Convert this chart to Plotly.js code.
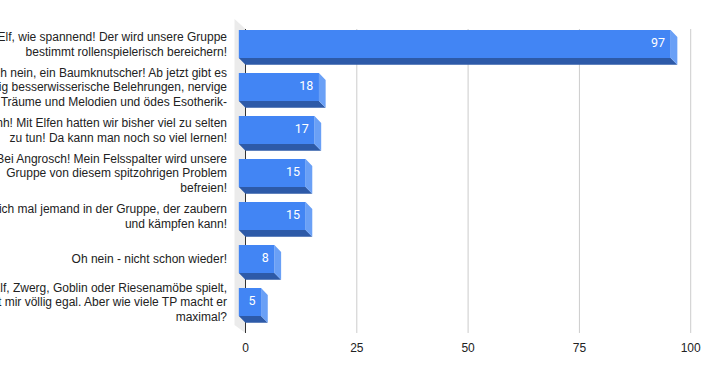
<!DOCTYPE html>
<html>
<head>
<meta charset="utf-8">
<script src="https://cdn.plot.ly/plotly-3.0.1.min.js"></script>
<style>html,body{margin:0;padding:0;background:#fff;}#chart{width:707px;height:371px;}</style>
</head>
<body>
<div id="chart"></div>
<script>
const categories = [
  "Oh, ein Elf, wie spannend! Der wird unsere Gruppe<br>bestimmt rollenspielerisch bereichern!",
  "Oh nein, ein Baumknutscher! Ab jetzt gibt es<br>ständig besserwisserische Belehrungen, nervige<br>Träume und Melodien und ödes Esotherik-",
  "Juchh! Mit Elfen hatten wir bisher viel zu selten<br>zu tun! Da kann man noch so viel lernen!",
  "Bei Angrosch! Mein Felsspalter wird unsere<br>Gruppe von diesem spitzohrigen Problem<br>befreien!",
  "Endlich mal jemand in der Gruppe, der zaubern<br>und kämpfen kann!",
  "Oh nein - nicht schon wieder!",
  "Ob er Elf, Zwerg, Goblin oder Riesenamöbe spielt,<br>ist mir völlig egal. Aber wie viele TP macht er<br>maximal?"
];
const values = [97, 18, 17, 15, 15, 8, 5];
const xTicks = [0, 25, 50, 75, 100];

// 3D geometry (in axis units)
const DX = 1.5, DY = 0.16, H = 0.65;
const GRID_TOP = -0.349, GRID_BOT = 6.72;
const LINE = 0.342; // label line spacing in category units
const idx = categories.map((_, i) => i);

// one tick per label line, so the line spacing can be set
const tickVals = [], tickText = [];
categories.forEach((c, i) => {
  const lines = c.split('<br>');
  lines.forEach((ln, j) => {
    tickVals.push(i + (j - (lines.length - 1) / 2) * LINE);
    tickText.push(ln);
  });
});

const frontX = [], frontY = [], sideX = [], sideY = [], botX = [], botY = [];
values.forEach((v, i) => {
  const t = i - H / 2, b = i + H / 2;
  frontX.push(-DX, v - DX, v - DX, -DX, -DX, null);
  frontY.push(t, t, b, b, t, null);
  sideX.push(v - DX, v, v, v - DX, v - DX, null);
  sideY.push(t, t + DY, b + DY, b, t, null);
  botX.push(-DX, v - DX, v, 0, -DX, null);
  botY.push(b, b, b + DY, b + DY, b, null);
});

const gridX = [], gridY = [];
xTicks.filter(t => t > 0).forEach(t => { gridX.push(t, t, null); gridY.push(GRID_TOP, GRID_BOT, null); });

const poly = (x, y, color) => ({
  type: 'scatter', mode: 'lines', x: x, y: y, fill: 'toself', fillcolor: color,
  line: {width: 0, color: color}, hoverinfo: 'skip', showlegend: false
});

const data = [
  poly([-2.47, 0, 0, -2.47, -2.47], [-0.581, GRID_TOP, GRID_BOT, 6.535, -0.581], '#ebebeb'),
  {type: 'scatter', mode: 'lines', x: gridX, y: gridY, line: {color: '#cccccc', width: 1}, hoverinfo: 'skip', showlegend: false},
  {type: 'scatter', mode: 'lines', x: [0, 0], y: [GRID_TOP, GRID_BOT], line: {color: '#333333', width: 1}, hoverinfo: 'skip', showlegend: false},
  poly(botX, botY, '#2d5aa8'),
  poly(sideX, sideY, '#6aa0f6'),
  poly(frontX, frontY, '#4285f4'),
  {type: 'scatter', mode: 'text', x: values.map(v => v - DX - 1.27), y: idx,
   text: values.map(String), textposition: 'middle left',
   textfont: {family: 'Roboto, Arial, sans-serif', size: 12.5, color: '#ffffff'},
   hoverinfo: 'skip', showlegend: false, cliponaxis: false}
];

const layout = {
  width: 707, height: 371,
  margin: {l: 234, r: 15, t: 17, b: 36, pad: 0},
  paper_bgcolor: '#ffffff', plot_bgcolor: '#ffffff',
  showlegend: false,
  font: {family: '"Liberation Sans", Arial, sans-serif', size: 12, color: '#222222'},
  xaxis: {
    range: [-2.583, 100.29], tickvals: xTicks, ticktext: xTicks.map(String),
    showgrid: false, zeroline: false, showline: false, ticks: '',
    ticklabelstandoff: 4,
    tickfont: {family: '"Liberation Sans", Arial, sans-serif', size: 12, color: '#222222'},
    fixedrange: true
  },
  yaxis: {
    range: [6.767, -0.628], tickvals: tickVals, ticktext: tickText,
    showgrid: false, zeroline: false, showline: false, ticks: '',
    ticklabelstandoff: 6,
    tickfont: {family: '"Liberation Sans", Arial, sans-serif', size: 12, color: '#222222'},
    automargin: false, fixedrange: true
  }
};

Plotly.newPlot('chart', data, layout, {displayModeBar: false, staticPlot: true});
</script>
</body>
</html>
